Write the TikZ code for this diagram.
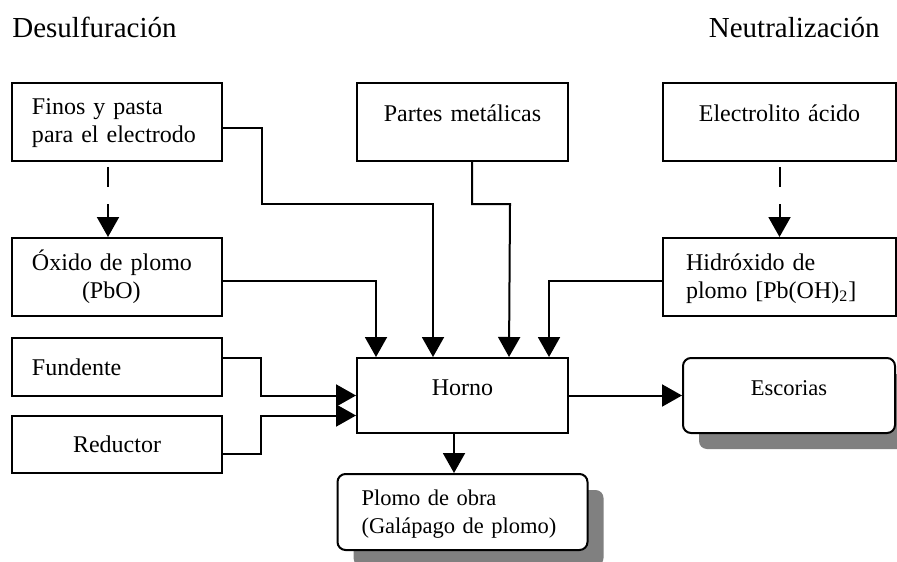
\documentclass[tikz,border=0pt]{standalone}
\usepackage{fontspec}
\setmainfont{Liberation Serif}
\usepackage{tikz}
\usetikzlibrary{calc}
\usetikzlibrary{positioning}
\usetikzlibrary{arrows.meta,shadows}
\tikzset{
	>={Triangle[length=10pt,width=11pt]},
	caja/.style={
		rectangle, 
		draw=black, line width=1pt,
		text width=85pt, 
		inner xsep=10pt,
		minimum height=39pt, 
		align=left,
		font=\fontsize{12}{14}\selectfont},
	arriba/.style={text height=8pt, text depth=8pt, align=center},
	dos/.style={text height=8pt, text depth=15pt},
	salida/.style={
		caja,
		rounded corners=4pt,
		fill=white,
		font=\fontsize{11.25}{14}\selectfont,
		drop shadow={shadow xshift=8pt, shadow yshift=-8pt, fill=black!50, opacity=1}},
	line/.style={draw, line width=1pt, ->},
	discont/.style={line, dash pattern=on 10pt off 8.5pt, shorten <=2.5pt},
	titulo/.style={font=\fontsize{14.5}{17}\selectfont, inner sep=0pt},
}
\begin{document}
\begin{tikzpicture}
		[x=0.5pt, y=0.5pt]
		\useasboundingbox (0,0) rectangle (897,-561);
		\node[titulo, anchor=base west] (desul) at (12,-38) {Desulfuración};
		\node[titulo, anchor=base east] (neutra) at (880,-38) {Neutralización};
		% columna izquierda
		\node[caja, dos] (finos) at (117,-122) {Finos y pasta\\para el electrodo};
		\node[caja, dos, below=37.5pt of finos] (oxido) {Óxido de plomo\\\hspace*{25pt}(PbO)};
		\node[caja, minimum height=29pt, below=10pt of oxido] (fundente) {Fundente};
		\node[caja, minimum height=28.5pt, align=center, below=9pt of fundente] (reductor) {Reductor};
		% centro y derecha
		\node[caja, arriba, text width=85.5pt] (partes) at (462.5,-122) {Partes metálicas};
		\node[caja, arriba, text width=96.5pt] (electro) at (779.5,-122) {Electrolito ácido};
		\node[caja, dos, text width=93.5pt, inner xsep=11.5pt, below=37.5pt of electro] (hidrox) {Hidróxido de\\plomo [Pb(OH)\textsubscript{2}]};
		\node[caja, arriba, text width=85.5pt, minimum height=37.5pt] (horno) at (462.5,-395.5) {Horno};
		\node[salida, arriba, text width=86pt, minimum height=37.5pt, right=56.5pt of horno] (escorias) {Escorias};
		\node[salida, dos, text width=101pt, inner xsep=12pt, minimum height=38pt, below=19.5pt of horno] (plomo) {Plomo de obra\\(Galápago de plomo)};

		\draw[discont] ([xshift=-4.5pt]finos.south) -- ([xshift=-4.5pt]oxido.north);
		\draw[discont] (electro.south) -- (hidrox.north);
		\draw[line] ([yshift=-3pt]finos.east) -| (262,-204) -| ([xshift=38.5pt]horno.north west);
		\draw[line] ([yshift=-2pt]oxido.east) -| ([xshift=10pt]horno.north west);
		\draw[line] ([xshift=4.75pt]partes.south) |- (510,-204) -- ([xshift=76.5pt]horno.north west);
		\draw[line] ([yshift=-2pt]hidrox.west) -| ([xshift=96.5pt]horno.north west);
		\draw[line] ([yshift=4.5pt]fundente.east) -| ([xshift=-47.5pt]horno.west) -- (horno.west);
		\draw[line] ([yshift=-4.75pt]reductor.east) -| ([shift={(-47.5pt,-10pt)}]horno.west) -- ([yshift=-10pt]horno.west);
		\draw[line] (horno.east) -- (escorias.west);
		\draw[line] ([xshift=-4.25pt]horno.south) -- ([xshift=-4.25pt]horno.south |- plomo.north);
		\end{tikzpicture}
\end{document}
